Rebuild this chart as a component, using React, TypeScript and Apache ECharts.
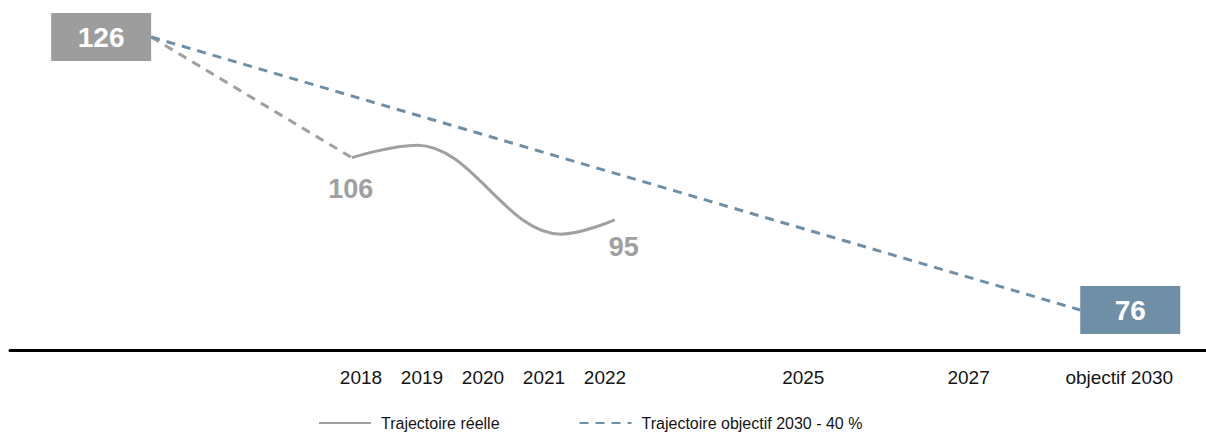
import React, { useEffect, useRef } from "react";
import * as echarts from "echarts";

// Timeline positions (in year units as laid out on the original axis) and tick labels
const tickPositions = [2018, 2019, 2020, 2021, 2022, 2025.25, 2027.96, 2030.43];
const tickLabels = ["2018", "2019", "2020", "2021", "2022", "2025", "2027", "objectif 2030"];

// Baseline and objective (target trajectory)
const targetX = [2014.56, 2029.79];
const targetValues = [126, 76];
const targetLabels = ["126", "76"];

// Link from baseline to first observed year
const linkX = [2014.56, 2017.85];
const linkValues = [126, 103.9];

// Observed trajectory (start, high point, low point, end as drawn)
const realX = [2017.85, 2018.92, 2021.28, 2022.16];
const realValues = [103.9, 106.2, 89.9, 92.5];
const realLabels = ["106", "", "", "95"];

const FONT = "'Liberation Sans', Arial, sans-serif";
const GRAY = "#a0a0a0";
const BOX_GRAY = "#9d9d9d";
const BLUE = "#6f8fa7";

export default function App() {
  const ref = useRef<HTMLDivElement>(null);

  useEffect(() => {
    document.body.style.margin = "0";
    if (!ref.current) return;
    const chart = echarts.init(ref.current, null, { renderer: "svg" });

    const targetData = targetX.map((x, i) => ({
      value: [x, targetValues[i]],
      symbol: "circle",
      symbolSize: 0.01,
      label: {
        show: true,
        position: i === 0 ? "left" : "right",
        distance: 0,
        offset: i === 0 ? [-50, 0] : [50, 0],
        formatter: targetLabels[i],
        backgroundColor: i === 0 ? BOX_GRAY : BLUE,
        width: 100,
        height: 48,
        lineHeight: 48,
        align: "center",
        verticalAlign: "middle",
        color: "#ffffff",
        fontFamily: FONT,
        fontWeight: "bold",
        fontSize: 28,
      },
    }));

    const realData = realX.map((x, i) => ({
      value: [x, realValues[i]],
      symbol: realLabels[i] ? "circle" : "none",
      symbolSize: 0.01,
      label: realLabels[i]
        ? {
            show: true,
            position: "bottom",
            distance: i === 0 ? 18 : 14,
            offset: i === 0 ? [-1, 0] : [9, 0],
            formatter: realLabels[i],
            color: GRAY,
            fontFamily: FONT,
            fontWeight: "bold",
            fontSize: 27,
          }
        : { show: false },
    }));

    chart.setOption({
      animation: false,
      grid: { left: 10, right: 0, top: 0, height: 350, containLabel: false },
      xAxis: {
        type: "value",
        min: 2012.246,
        max: 2031.852,
        axisLine: { show: true, lineStyle: { color: "#000000", width: 3 } },
        axisTick: { show: false },
        splitLine: { show: false },
        axisLabel: {
          customValues: tickPositions,
          formatter: (v: number) => {
            const idx = tickPositions.findIndex((p) => Math.abs(p - v) < 1e-6);
            return idx >= 0 ? tickLabels[idx] : "";
          },
          margin: 18,
          color: "#151515",
          fontFamily: FONT,
          fontSize: 19,
        },
      },
      yAxis: {
        type: "value",
        min: 68.68,
        max: 132.78,
        show: false,
      },
      legend: {
        left: 318,
        top: 415,
        padding: 0,
        itemWidth: 52,
        itemHeight: 14,
        itemGap: 79,
        itemStyle: { opacity: 0 },
        data: ["Trajectoire réelle", "Trajectoire objectif 2030 - 40 %"],
        textStyle: {
          color: "#151515",
          fontFamily: FONT,
          fontSize: 16,
          padding: [0, 0, 0, 5],
        },
      },
      series: [
        {
          name: "Trajectoire objectif 2030 - 40 %",
          type: "line",
          symbol: "none",
          data: targetData,
          lineStyle: { color: BLUE, width: 3, type: [9, 7] },
          itemStyle: { color: BLUE },
          z: 3,
        },
        {
          name: "liaison",
          type: "line",
          symbol: "none",
          data: linkX.map((x, i) => [x, linkValues[i]]),
          lineStyle: { color: GRAY, width: 3, type: [9, 7] },
          itemStyle: { color: GRAY },
          z: 2,
        },
        {
          name: "Trajectoire réelle",
          type: "line",
          symbol: "none",
          smooth: 0.38,
          smoothMonotone: "x",
          data: realData,
          lineStyle: { color: GRAY, width: 3 },
          itemStyle: { color: GRAY },
          z: 2,
        },
      ],
    });

    return () => chart.dispose();
  }, []);

  return <div ref={ref} style={{ width: 1206, height: 434 }} />;
}
